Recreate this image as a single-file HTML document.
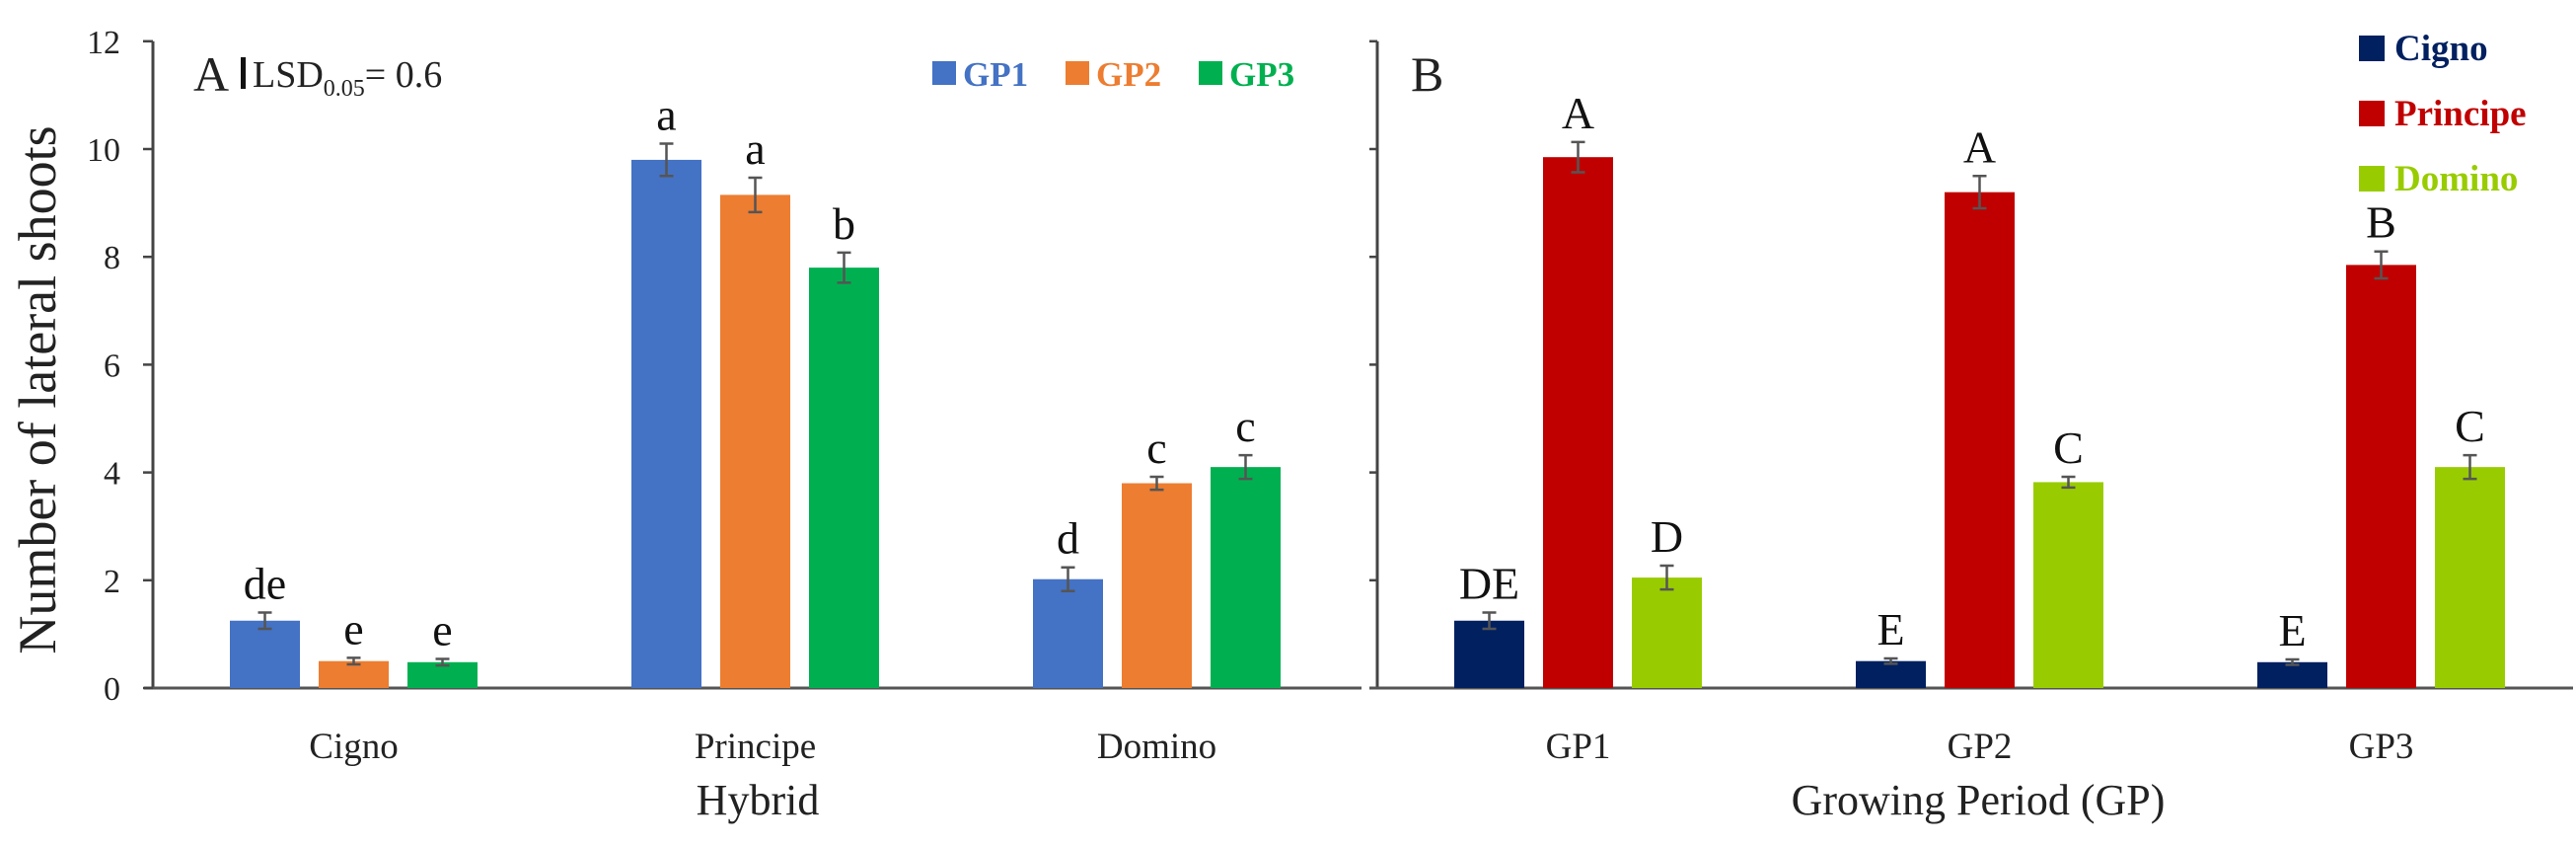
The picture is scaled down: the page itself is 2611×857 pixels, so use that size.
<!DOCTYPE html>
<html><head><meta charset="utf-8"><style>
html,body{margin:0;padding:0;background:#fff}
svg text{font-family:"Liberation Serif",serif}
</style></head><body>
<svg id="chart" width="2611" height="852" viewBox="0 0 2611 852" xmlns="http://www.w3.org/2000/svg">
<g id="layer"></g>
</svg>
<script>
const hybrids = ["Cigno","Principe","Domino"];
const periods = ["GP1","GP2","GP3"];
// Panel A: rows = hybrid, cols = GP1..GP3
const leftCigno = [1.25,0.5,0.48];
const leftPrincipe = [9.8,9.15,7.8];
const leftDomino = [2.02,3.8,4.1];
const leftErrCigno = [0.15,0.06,0.06];
const leftErrPrincipe = [0.3,0.32,0.28];
const leftErrDomino = [0.22,0.12,0.22];
const leftLettersCigno = ["de","e","e"];
const leftLettersPrincipe = ["a","a","b"];
const leftLettersDomino = ["d","c","c"];
// Panel B: rows = GP, cols = hybrid
const rightGP1 = [1.25,9.85,2.05];
const rightGP2 = [0.5,9.2,3.82];
const rightGP3 = [0.48,7.85,4.1];
const rightErrGP1 = [0.15,0.28,0.22];
const rightErrGP2 = [0.05,0.3,0.1];
const rightErrGP3 = [0.05,0.25,0.22];
const rightLettersGP1 = ["DE","A","D"];
const rightLettersGP2 = ["E","A","C"];
const rightLettersGP3 = ["E","B","C"];
const yTicks = [0,2,4,6,8,10,12];
const rightTicks = [2,4,6,8,10,12];

const NS="http://www.w3.org/2000/svg";
const g=document.getElementById('layer');
function el(t,a,txt){const e=document.createElementNS(NS,t);for(const k in a)e.setAttribute(k,a[k]);if(txt!==undefined)e.textContent=txt;g.appendChild(e);return e;}
const y0=697, unit=54.6;
function yScale(v){return y0-v*unit;}
const step=407, inner=90, bw=71;
function leftX(ci,si){return 155+step/2+ci*step+(si-1)*inner;}
function rightX(ci,si){return 1396+step/2+ci*step+(si-1)*inner;}

let e;
e=el('line',{x1:155,y1:yScale(12),x2:155,y2:y0,stroke:'#444','stroke-width':3});

e=el('line',{x1:146,y1:y0,x2:1380,y2:y0,stroke:'#555','stroke-width':3});

e=el('line',{x1:1396,y1:yScale(12),x2:1396,y2:y0,stroke:'#444','stroke-width':3});

e=el('line',{x1:1388,y1:y0,x2:2608,y2:y0,stroke:'#555','stroke-width':3});

yTicks.forEach(t=>{
  e=el('line',{x1:145,y1:yScale(t),x2:155,y2:yScale(t),stroke:'#444','stroke-width':2.5});
  
  e=el('text',{x:122,y:yScale(t)+12,'font-size':34,'text-anchor':'end',fill:'#222'},String(t));
  
});
rightTicks.forEach(t=>{
  e=el('line',{x1:1388,y1:yScale(t),x2:1396,y2:yScale(t),stroke:'#444','stroke-width':2.5});
  
});
e=el('text',{x:0,y:0,'font-size':54,'text-anchor':'middle',fill:'#222',transform:'translate(56,395) rotate(-90)'},'Number of lateral shoots');


function drawBars(xf,vals,errs,letters,colors,ci,prefix){
  vals.forEach((v,si)=>{
    const cx=xf(ci,si);
    e=el('rect',{x:cx-bw/2,y:yScale(v),width:bw,height:y0-yScale(v),fill:colors[si]});
    
    const top=yScale(v+errs[si]),bot=yScale(v-errs[si]);
    e=el('path',{d:`M${cx},${top}V${bot}M${cx-7},${top}H${cx+7}M${cx-7},${bot}H${cx+7}`,stroke:'#555','stroke-width':2.5,fill:'none'});
    
    e=el('text',{x:cx,y:top-14,'font-size':46,'text-anchor':'middle',fill:'#111'},letters[si]);
    
  });
}
const lc=['#4472C4','#ED7D31','#00B050'], rc=['#002060','#C00000','#99CC00'];
drawBars(leftX,leftCigno,leftErrCigno,leftLettersCigno,lc,0,'cigno');
drawBars(leftX,leftPrincipe,leftErrPrincipe,leftLettersPrincipe,lc,1,'principe');
drawBars(leftX,leftDomino,leftErrDomino,leftLettersDomino,lc,2,'domino');
drawBars(rightX,rightGP1,rightErrGP1,rightLettersGP1,rc,0,'gp1');
drawBars(rightX,rightGP2,rightErrGP2,rightLettersGP2,rc,1,'gp2');
drawBars(rightX,rightGP3,rightErrGP3,rightLettersGP3,rc,2,'gp3');

hybrids.forEach((h,i)=>{e=el('text',{x:leftX(i,1),y:768,'font-size':37,'text-anchor':'middle',fill:'#222'},h);
  });
periods.forEach((p,i)=>{e=el('text',{x:rightX(i,1),y:768,'font-size':37,'text-anchor':'middle',fill:'#222'},p);
  });
e=el('text',{x:768,y:825,'font-size':44,'text-anchor':'middle',fill:'#222'},'Hybrid');

e=el('text',{x:2005,y:825,'font-size':44,'text-anchor':'middle',fill:'#222'},'Growing Period (GP)');


e=el('text',{x:196,y:92,'font-size':50,fill:'#222'},'A');

e=el('rect',{x:244,y:58,width:5,height:32,fill:'#111'});

e=el('text',{x:256,y:88,'font-size':38,fill:'#222'});

e.innerHTML='LSD<tspan font-size="24" dy="9">0.05</tspan><tspan dy="-9">= 0.6</tspan>';
e=el('text',{x:1430,y:92,'font-size':50,fill:'#222'},'B');


periods.forEach((p,i)=>{
  const x=945+i*135;
  e=el('rect',{x:x,y:62,width:24,height:24,fill:lc[i]});
  
  e=el('text',{x:x+31,y:87,'font-size':35,'font-weight':'bold',fill:lc[i]},p);
  
});
hybrids.forEach((h,i)=>{
  const y=49+i*66;
  e=el('rect',{x:2391,y:y-13,width:26,height:26,fill:rc[i]});
  
  e=el('text',{x:2427,y:y+12,'font-size':37,'font-weight':'bold',fill:rc[i]},h);
  
});
</script>
</body></html>
